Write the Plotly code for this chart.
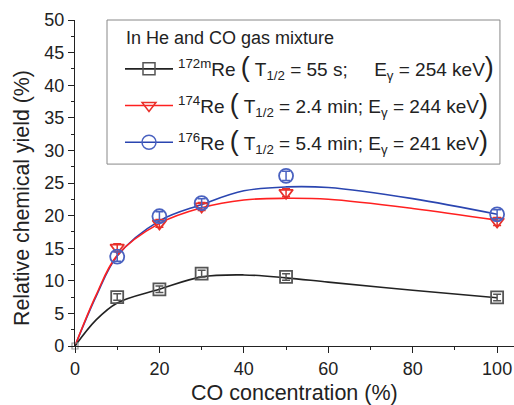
import plotly.graph_objects as go

# Measured data
co_conc = [10, 20, 30, 50, 100]
yield_172 = [7.5, 8.7, 11.1, 10.6, 7.45]
err_172 = [0.5, 0.5, 0.5, 0.5, 0.5]
yield_174 = [15.1, 18.8, 21.4, 23.5, 19.1]
err_174 = [0.6, 0.6, 0.6, 0.6, 0.6]
yield_176 = [13.7, 19.9, 21.9, 26.1, 20.2]
err_176 = [0.7, 0.7, 0.7, 0.7, 0.7]
origin_x = [0]
origin_y = [0]

# Fitted curves
fit_x = [0, 5, 10, 20, 30, 40, 50, 60, 80, 100]
fit_172 = [0, 4.0, 6.6, 8.7, 10.6, 10.9, 10.45, 9.8, 8.55, 7.4]
fit_174 = [0, 7.8, 13.9, 18.8, 21.2, 22.4, 22.65, 22.5, 21.1, 19.3]
fit_176 = [0, 7.6, 13.8, 19.2, 21.7, 23.8, 24.4, 24.3, 22.6, 20.2]

x_tick_vals = [0, 20, 40, 60, 80, 100]
y_tick_vals = list(range(0, 51, 5))

P_OPEN = "<span style='font-size:27px'>(</span>"
P_CLOSE = "<span style='font-size:27px'>)</span>"
legend_title = "In He and CO gas mixture"
legend_names = [
    "<sup>172m</sup>Re " + P_OPEN + " T<sub>1/2</sub> = 55 s;&nbsp;&nbsp;&nbsp;&nbsp; E<sub>γ</sub> = 254 keV" + P_CLOSE,
    "<sup>174</sup>Re " + P_OPEN + " T<sub>1/2</sub> = 2.4 min; E<sub>γ</sub> = 244 keV" + P_CLOSE,
    "<sup>176</sup>Re " + P_OPEN + " T<sub>1/2</sub> = 5.4 min; E<sub>γ</sub> = 241 keV" + P_CLOSE,
]

series = [
    (yield_172, err_172, fit_172, "#222222", "#555555", "square-open", 12),
    (yield_174, err_174, fit_174, "#ff2020", "#e8302a", "triangle-down-open", 12),
    (yield_176, err_176, fit_176, "#2a45b0", "#4a62c0", "circle-open", 14),
]

FONT = "Liberation Sans, Arial"
fig = go.Figure()
# curves
for (ys, es, fy, lc, mc, sym, sz) in [series[2], series[1], series[0]]:
    fig.add_trace(go.Scatter(x=fit_x, y=fy, mode="lines",
                             line=dict(color=lc, width=1.6, shape="spline", smoothing=1.0),
                             showlegend=False, hoverinfo="skip"))
# origin point
fig.add_trace(go.Scatter(x=origin_x, y=origin_y, mode="markers", showlegend=False, cliponaxis=False,
                         marker=dict(symbol="square-open", size=6, color="#999", line=dict(width=1.2, color="#999"))))
# markers with error bars
for (ys, es, fy, lc, mc, sym, sz) in series:
    fig.add_trace(go.Scatter(x=co_conc, y=ys, mode="markers",
                             marker=dict(symbol=sym, size=sz, color=mc, line=dict(width=1.8, color=mc)),
                             error_y=dict(type="data", array=es, visible=True, color=mc, thickness=1.5, width=4),
                             showlegend=False, cliponaxis=False))
# legend entries
for i, (name, (ys, es, fy, lc, mc, sym, sz)) in enumerate(zip(legend_names, series)):
    fig.add_trace(go.Scatter(x=[None], y=[None], mode="lines+markers", name=name,
                             legendgroup="g%d" % i,
                             line=dict(color=lc, width=1.6),
                             marker=dict(symbol=sym, size=sz, color=mc, line=dict(width=1.5, color=mc))))

axis_common = dict(showline=True, linecolor="#222", linewidth=1.3, ticks="outside", ticklen=6, tickwidth=1.3,
                   tickcolor="#222", showgrid=False, zeroline=False, mirror=False, automargin=False,
                   ticklabeloverflow="allow",
                   tickfont=dict(family=FONT, size=18, color="#222"))

fig.update_layout(
    width=514, height=405,
    margin=dict(l=75, r=0, t=20, b=59),
    paper_bgcolor="white", plot_bgcolor="white",
    font=dict(family=FONT, color="#222"),
    xaxis=dict(range=[0, 104], tickvals=x_tick_vals,
               minor=dict(tickvals=[10, 30, 50, 70, 90], ticklen=3, tickwidth=1.3, tickcolor="#222", ticks="outside"),
               **axis_common),
    yaxis=dict(range=[0, 50], tickvals=y_tick_vals,
               minor=dict(dtick=2.5, ticklen=3, tickwidth=1.3, tickcolor="#222", ticks="outside"),
               **axis_common),
    annotations=[
        dict(text="CO concentration (%)", xref="paper", yref="paper", x=0.501, y=-0.144,
             xanchor="center", yanchor="middle", showarrow=False,
             font=dict(size=21.5, family=FONT, color="#222")),
        dict(text="Relative chemical yield (%)", xref="paper", yref="paper", x=-0.121, y=0.454,
             xanchor="center", yanchor="middle", showarrow=False, textangle=-90,
             font=dict(size=21.3, family=FONT, color="#222")),
        dict(text=legend_title, xref="paper", yref="paper", x=0.1116, y=0.945,
             xanchor="left", yanchor="middle", showarrow=False,
             font=dict(size=18, family=FONT, color="#222")),
    ],
    shapes=[dict(type="rect", xref="paper", yref="paper", x0=0.0729, x1=0.968, y0=0.558, y1=1.0,
                 line=dict(color="#888", width=1), fillcolor="white", layer="below")],
    legend=dict(x=0.1025, y=0.908, xanchor="left", yanchor="top",
                bgcolor="rgba(0,0,0,0)", borderwidth=0,
                font=dict(size=19, family=FONT, color="#222"),
                tracegroupgap=9, itemwidth=48),
)

fig.write_html("out.html", config={"displayModeBar": False},
               post_script="document.body.style.margin='0';document.body.style.overflow='hidden';")
